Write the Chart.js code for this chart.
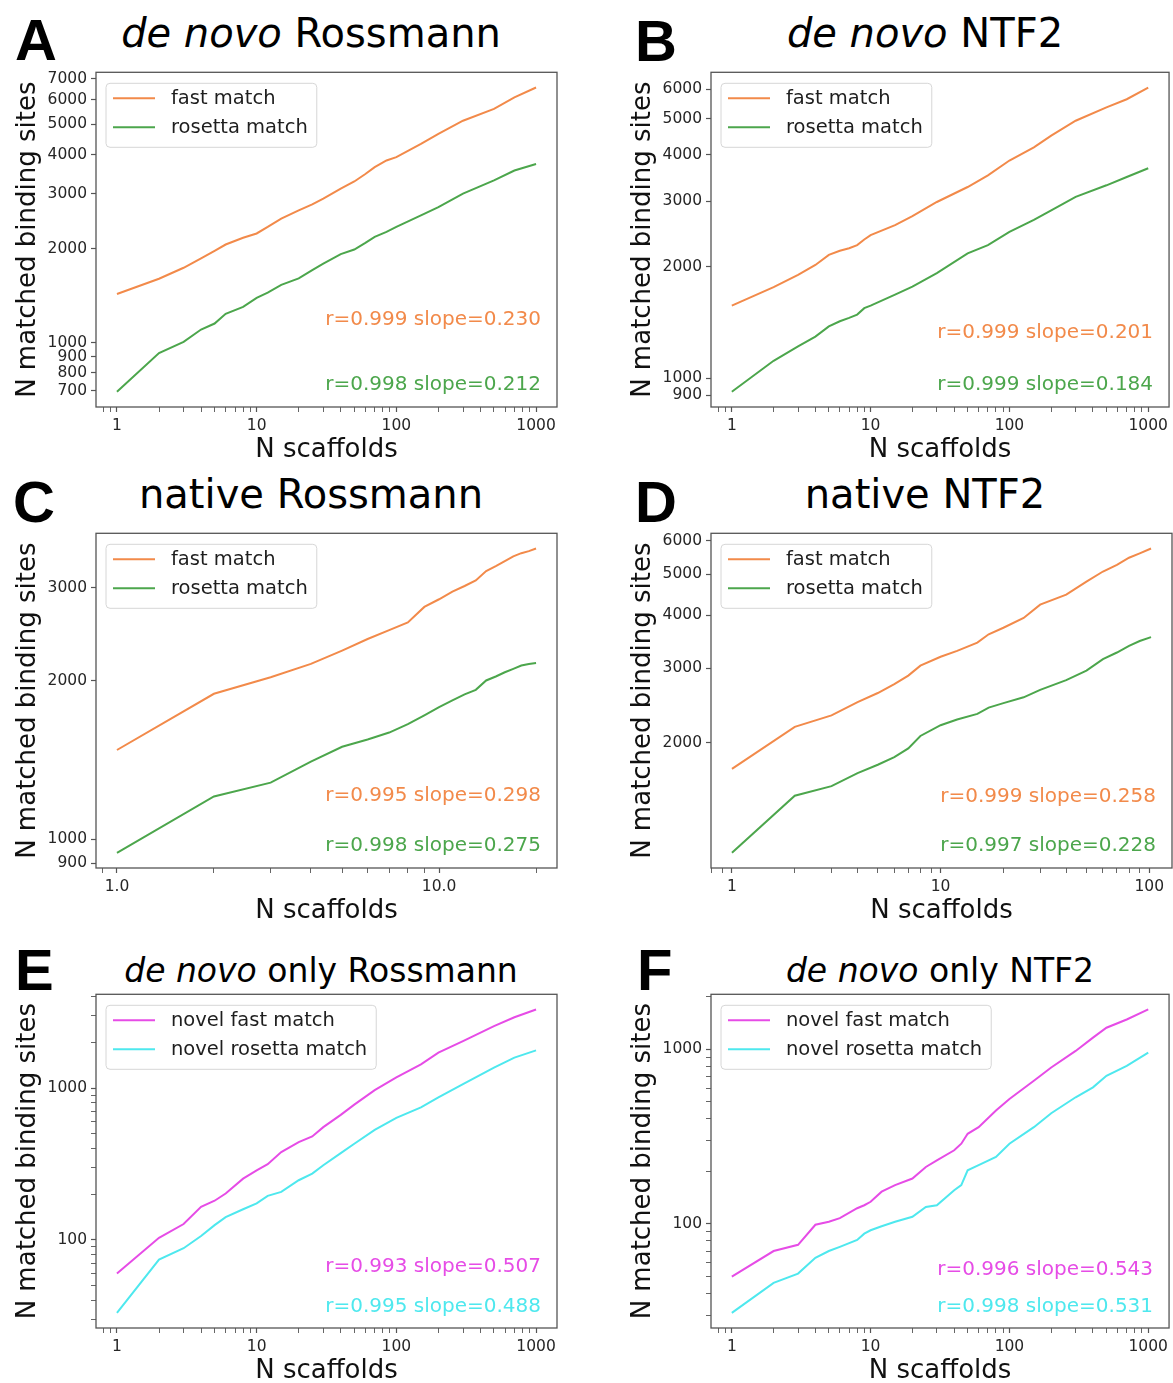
<!DOCTYPE html>
<html><head><meta charset="utf-8">
<script src="https://cdn.jsdelivr.net/npm/chart.js@4.4.1/dist/chart.umd.min.js"></script>
<style>
html,body{margin:0;padding:0;background:#fff;}
body{width:1173px;height:1383px;position:relative;overflow:hidden;font-family:"DejaVu Sans",sans-serif;}
canvas{position:absolute;}
.title{position:absolute;width:600px;text-align:center;font-size:40px;line-height:40px;color:#000;white-space:nowrap;font-family:"DejaVu Sans",sans-serif;}
.title.small{font-size:33px;line-height:33px;}
.letter{position:absolute;font-family:"Liberation Sans",Arial,sans-serif;font-weight:bold;font-size:58px;line-height:58px;color:#000;}
</style></head><body>

<div class="letter" style="left:15px;top:11px;">A</div>
<div class="letter" style="left:635px;top:12px;">B</div>
<div class="letter" style="left:13px;top:473px;">C</div>
<div class="letter" style="left:635px;top:473px;">D</div>
<div class="letter" style="left:15px;top:941px;">E</div>
<div class="letter" style="left:637px;top:941px;">F</div>

<div class="title" style="left:11px;top:13px;"><i>de novo</i> Rossmann</div>
<div class="title" style="left:625px;top:13px;"><i>de novo</i> NTF2</div>
<div class="title" style="left:11px;top:474px;">native Rossmann</div>
<div class="title" style="left:625px;top:474px;">native NTF2</div>
<div class="title small" style="left:21px;top:954px;"><i>de novo</i> only Rossmann</div>
<div class="title small" style="left:640px;top:954px;"><i>de novo</i> only NTF2</div>

<script>
// ---------------- DATA ----------------
// Panel A: de novo Rossmann
const xA = [1,2,3,4,5,6,8,10,12,15,20,25,30,40,50,60,70,85,100,150,200,300,500,700,1000];
const fastA = [1430,1600,1735,1860,1965,2060,2165,2235,2345,2495,2650,2770,2890,3110,3280,3465,3645,3830,3925,4325,4660,5135,5600,6100,6560];
const rosettaA = [695,925,1005,1100,1150,1235,1300,1390,1445,1530,1605,1705,1790,1920,1985,2085,2180,2260,2345,2555,2715,3000,3305,3555,3730];
const statsA = ['r=0.999 slope=0.230','r=0.998 slope=0.212'];

// Panel B: de novo NTF2
const xB = [1,2,3,4,5,6,7,8,9,10,15,20,30,50,70,100,150,200,300,500,700,1000];
const fastB = [1570,1760,1900,2020,2150,2205,2240,2285,2365,2430,2585,2735,2985,3275,3520,3860,4190,4505,4940,5365,5645,6070];
const rosettaB = [920,1115,1220,1295,1380,1425,1455,1485,1545,1570,1680,1765,1920,2170,2285,2480,2670,2835,3080,3310,3485,3680];
const statsB = ['r=0.999 slope=0.201','r=0.999 slope=0.184'];

// Panel C: native Rossmann
const xC = [1,2,3,4,5,6,7,8,9,10,11,12,13,14,15,16,17,18,19,20];
const fastC = [1476,1887,2029,2150,2279,2397,2492,2577,2758,2852,2949,3022,3097,3226,3297,3369,3439,3488,3519,3560];
const rosettaC = [942,1205,1280,1403,1497,1545,1593,1652,1718,1781,1833,1882,1920,2000,2035,2073,2104,2135,2150,2159];
const statsC = ['r=0.995 slope=0.298','r=0.998 slope=0.275'];

// Panel D: native NTF2
const xD = [1,2,3,4,5,6,7,8,10,12,15,17,20,25,30,40,50,60,70,80,90,102];
const fastD = [1735,2180,2320,2495,2620,2750,2880,3040,3190,3295,3445,3605,3735,3940,4235,4470,4800,5070,5255,5465,5595,5745];
const rosettaD = [1100,1500,1580,1695,1775,1850,1940,2075,2200,2270,2340,2420,2480,2560,2665,2810,2960,3150,3265,3385,3475,3550];
const statsD = ['r=0.999 slope=0.258','r=0.997 slope=0.228'];

// Panel E: de novo only Rossmann
const xE = [1,2,3,4,5,6,8,10,12,15,20,25,30,40,50,70,100,150,200,300,500,700,1000];
const novelFastE = [60,103,127,165,181,202,253,287,315,379,441,480,553,666,778,970,1175,1436,1712,2042,2560,2933,3300];
const novelRosettaE = [33,74,88,106,125,141,159,174,195,207,247,273,310,373,430,531,636,747,869,1062,1366,1588,1774];
const statsE = ['r=0.993 slope=0.507','r=0.995 slope=0.488'];

// Panel F: de novo only NTF2
const xF = [1,2,3,4,5,6,8,9,10,12,15,20,25,30,40,45,50,60,80,100,150,200,300,400,500,700,1000];
const novelFastF = [50,70,76,99,103,108,123,128,134,153,167,182,212,231,264,288,328,358,446,519,660,786,978,1165,1328,1480,1689];
const novelRosettaF = [31,46,52,64,70,74,81,88,92,97,103,110,125,128,156,167,203,217,242,288,358,430,531,605,705,804,957];
const statsF = ['r=0.996 slope=0.543','r=0.998 slope=0.531'];

// Series labels
const labelsMatch = ['fast match','rosetta match'];
const labelsNovel = ['novel fast match','novel rosetta match'];

// Tick values and labels
const xMajor = [1,10,100,1000];
const xMajorLabels = ['1','10','100','1000'];
const xMinor = [0.8,0.9,2,3,4,5,6,7,8,9,20,30,40,50,60,70,80,90,200,300,400,500,600,700,800,900];
const xMajorC = [1,10];
const xMajorLabelsC = ['1.0','10.0'];
const xMinorC = [0.9,2,3,4,5,6,7,8,9,20];
const xMajorD = [1,10,100];
const xMajorLabelsD = ['1','10','100'];
const xMinorD = [0.8,0.9,2,3,4,5,6,7,8,9,20,30,40,50,60,70,80,90];

const yTicksA = [700,800,900,1000,2000,3000,4000,5000,6000,7000];
const yTickLabelsA = ['700','800','900','1000','2000','3000','4000','5000','6000','7000'];
const yTicksB = [900,1000,2000,3000,4000,5000,6000];
const yTickLabelsB = ['900','1000','2000','3000','4000','5000','6000'];
const yTicksC = [900,1000,2000,3000];
const yTickLabelsC = ['900','1000','2000','3000'];
const yTicksD = [2000,3000,4000,5000,6000];
const yTickLabelsD = ['2000','3000','4000','5000','6000'];
const yMajorEF = [100,1000];
const yMajorLabelsEF = ['100','1000'];
const yMinorE = [30,40,50,60,70,80,90,200,300,400,500,600,700,800,900,2000,3000,4000];
const yMinorF = [30,40,50,60,70,80,90,200,300,400,500,600,700,800,900,2000];

// ---------------- STYLE ----------------
const ORANGE = '#f28a4a', GREEN = '#4ca64c', MAGENTA = '#e64ce6', CYAN = '#4ee8ee';
const FONT = '"DejaVu Sans"';
const AXIS = '#555';

function logLimits(vals){
  const lo = Math.log10(Math.min(...vals)), hi = Math.log10(Math.max(...vals));
  const m = (hi - lo) * 0.05;
  return [Math.pow(10, lo - m), Math.pow(10, hi + m)];
}
function near(a,b){ return Math.abs(a-b) <= 1e-9*Math.max(Math.abs(a),Math.abs(b)); }
function tickList(major, minor, lo, hi){
  return major.concat(minor).filter(v => v >= lo && v <= hi).sort((a,b)=>a-b).map(v => ({value:v}));
}
function labelFor(v, major, labels){
  for (let i=0;i<major.length;i++) if (near(v, major[i])) return labels[i];
  return '';
}

function makeDeco(p){
  return {
    id: 'deco',
    afterDatasetsDraw(chart){
      const a = chart.chartArea, ctx = chart.ctx;
      ctx.save();
      // statistics texts
      ctx.font = '20px ' + FONT;
      ctx.textAlign = 'right'; ctx.textBaseline = 'middle';
      p.stats.forEach((t,i) => {
        ctx.fillStyle = p.colors[i];
        ctx.fillText(t, a.right - 16, a.bottom - p.statOff[i]);
      });
      // frame (spines)
      ctx.strokeStyle = AXIS; ctx.lineWidth = 1.3;
      ctx.strokeRect(a.left, a.top, a.right - a.left, a.bottom - a.top);
      // legend
      ctx.font = '19.5px ' + FONT;
      const ds = chart.data.datasets;
      let tw = 0; ds.forEach(d => { tw = Math.max(tw, ctx.measureText(d.label).width); });
      const bx = a.left + 10, by = a.top + 11, bw = 7 + 42 + 16 + tw + 9, bh = 64, r = 4;
      ctx.beginPath();
      ctx.moveTo(bx + r, by); ctx.lineTo(bx + bw - r, by); ctx.arcTo(bx + bw, by, bx + bw, by + r, r);
      ctx.lineTo(bx + bw, by + bh - r); ctx.arcTo(bx + bw, by + bh, bx + bw - r, by + bh, r);
      ctx.lineTo(bx + r, by + bh); ctx.arcTo(bx, by + bh, bx, by + bh - r, r);
      ctx.lineTo(bx, by + r); ctx.arcTo(bx, by, bx + r, by, r); ctx.closePath();
      ctx.fillStyle = 'rgba(255,255,255,0.85)'; ctx.fill();
      ctx.strokeStyle = '#d6d6d6'; ctx.lineWidth = 1; ctx.stroke();
      ctx.textAlign = 'left'; ctx.textBaseline = 'middle';
      ds.forEach((d,i) => {
        const y = by + 15 + 29*i;
        ctx.strokeStyle = d.borderColor; ctx.lineWidth = 2;
        ctx.beginPath(); ctx.moveTo(bx + 7, y); ctx.lineTo(bx + 49, y); ctx.stroke();
        ctx.fillStyle = '#1e1e1e';
        ctx.fillText(d.label, bx + 65, y + 1);
      });
      ctx.restore();
    }
  };
}

function makePanel(p){
  const canvas = document.createElement('canvas');
  canvas.width = p.w; canvas.height = p.h;
  canvas.style.left = p.left + 'px'; canvas.style.top = p.top + 'px';
  canvas.style.width = p.w + 'px'; canvas.style.height = p.h + 'px';
  document.body.appendChild(canvas);
  const allY = p.series.reduce((acc,s) => acc.concat(s), []);
  const [ymin, ymax] = logLimits(allY);
  const [xmin, xmax] = logLimits(p.x);
  const yMajor = p.yMajor, yMinor = p.yMinor || [];
  const tickFont = {family: FONT, size: 15.5, lineHeight: 1.2};
  new Chart(canvas, {
    type: 'line',
    data: {
      datasets: p.series.map((s,i) => ({
        label: p.labels[i],
        data: p.x.map((x,j) => ({x: x, y: s[j]})),
        borderColor: p.colors[i],
        backgroundColor: p.colors[i],
        borderWidth: 2,
        pointRadius: 0,
        tension: 0,
        fill: false
      }))
    },
    options: {
      responsive: false,
      animation: false,
      devicePixelRatio: 1,
      layout: {padding: {top: 12, left: 0, right: p.padRight, bottom: 0}},
      plugins: {legend: {display: false}, tooltip: {enabled: false}, title: {display: false}},
      scales: {
        x: {
          type: 'logarithmic', position: 'bottom', min: xmin, max: xmax, bounds: 'data',
          afterBuildTicks: sc => { sc.ticks = tickList(p.xMajor, p.xMinor, xmin, xmax); },
          afterFit: sc => { sc.height = 56; },
          border: {display: false},
          grid: {display: true, drawOnChartArea: false, drawTicks: true, tickLength: 5,
                 tickColor: AXIS,
                 tickWidth: c => (c.tick && labelFor(c.tick.value, p.xMajor, p.xLabels) !== '') ? 1.2 : 0.9},
          ticks: {autoSkip: false, maxRotation: 0, minRotation: 0, padding: 5, color: '#262626', font: tickFont,
                  callback: v => labelFor(v, p.xMajor, p.xLabels)},
          title: {display: true, text: 'N scaffolds', color: '#111', font: {family: FONT, size: 26, lineHeight: 1}, padding: {top: 0, bottom: 0}}
        },
        y: {
          type: 'logarithmic', position: 'left', min: ymin, max: ymax, bounds: 'data',
          afterBuildTicks: sc => { sc.ticks = tickList(yMajor, yMinor, ymin, ymax); },
          afterFit: sc => { sc.width = 96; },
          border: {display: false},
          grid: {display: true, drawOnChartArea: false, drawTicks: true, tickLength: 5,
                 tickColor: AXIS,
                 tickWidth: c => (c.tick && labelFor(c.tick.value, yMajor, p.yLabels) !== '') ? 1.2 : 0.9},
          ticks: {autoSkip: false, padding: 4, color: '#262626', font: tickFont,
                  callback: v => labelFor(v, yMajor, p.yLabels)},
          title: {display: true, text: 'N matched binding sites', color: '#111', font: {family: FONT, size: 26, lineHeight: 1}, padding: {top: 15, bottom: 0}}
        }
      }
    },
    plugins: [makeDeco(p)]
  });
}

const LEFT = {left: 0, w: 580, padRight: 23};
const RIGHT = {left: 615, w: 558, padRight: 1};
const ROW1 = {top: 59, h: 404}, ROW2 = {top: 520, h: 404}, ROW3 = {top: 981, h: 403};

makePanel(Object.assign({}, LEFT, ROW1, {x: xA, series: [fastA, rosettaA], labels: labelsMatch, colors: [ORANGE, GREEN],
  stats: statsA, statOff: [87, 22], xMajor: xMajor, xLabels: xMajorLabels, xMinor: xMinor, yMajor: yTicksA, yLabels: yTickLabelsA}));
makePanel(Object.assign({}, RIGHT, ROW1, {x: xB, series: [fastB, rosettaB], labels: labelsMatch, colors: [ORANGE, GREEN],
  stats: statsB, statOff: [74, 22], xMajor: xMajor, xLabels: xMajorLabels, xMinor: xMinor, yMajor: yTicksB, yLabels: yTickLabelsB}));
makePanel(Object.assign({}, LEFT, ROW2, {x: xC, series: [fastC, rosettaC], labels: labelsMatch, colors: [ORANGE, GREEN],
  stats: statsC, statOff: [72, 22], xMajor: xMajorC, xLabels: xMajorLabelsC, xMinor: xMinorC, yMajor: yTicksC, yLabels: yTickLabelsC}));
makePanel(Object.assign({}, RIGHT, ROW2, {x: xD, series: [fastD, rosettaD], labels: labelsMatch, colors: [ORANGE, GREEN],
  stats: statsD, statOff: [71, 22], xMajor: xMajorD, xLabels: xMajorLabelsD, xMinor: xMinorD, yMajor: yTicksD, yLabels: yTickLabelsD}));
makePanel(Object.assign({}, LEFT, ROW3, {x: xE, series: [novelFastE, novelRosettaE], labels: labelsNovel, colors: [MAGENTA, CYAN],
  stats: statsE, statOff: [61, 21], xMajor: xMajor, xLabels: xMajorLabels, xMinor: xMinor, yMajor: yMajorEF, yLabels: yMajorLabelsEF, yMinor: yMinorE}));
makePanel(Object.assign({}, RIGHT, ROW3, {x: xF, series: [novelFastF, novelRosettaF], labels: labelsNovel, colors: [MAGENTA, CYAN],
  stats: statsF, statOff: [58, 21], xMajor: xMajor, xLabels: xMajorLabels, xMinor: xMinor, yMajor: yMajorEF, yLabels: yMajorLabelsEF, yMinor: yMinorF}));
</script>
</body></html>
